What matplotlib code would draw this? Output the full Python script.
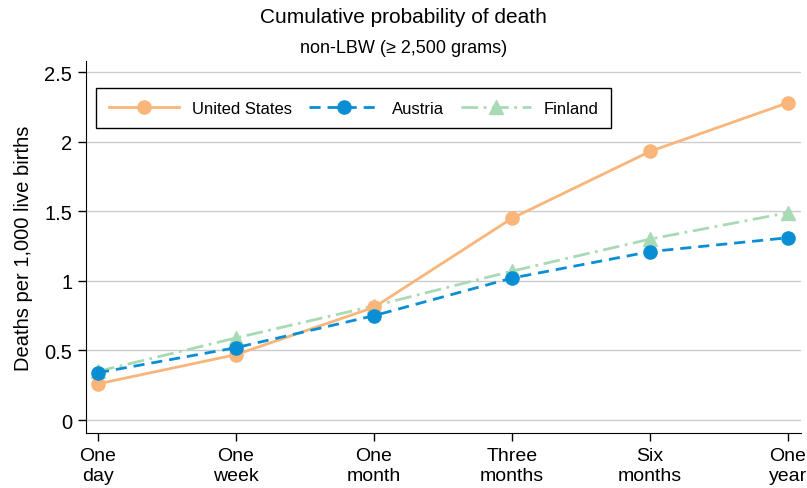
import numpy as np
import matplotlib
matplotlib.use("Agg")
import matplotlib.pyplot as plt

plt.rcParams['font.family'] = ['Liberation Sans', 'DejaVu Sans']

periods = ["One\nday", "One\nweek", "One\nmonth", "Three\nmonths", "Six\nmonths", "One\nyear"]
us = [0.26, 0.47, 0.81, 1.45, 1.93, 2.28]
austria = [0.34, 0.52, 0.75, 1.02, 1.21, 1.31]
finland = [0.35, 0.59, 0.82, 1.07, 1.30, 1.49]
yticks = [0, 0.5, 1, 1.5, 2, 2.5]
ytick_labels = ["0", "0.5", "1", "1.5", "2", "2.5"]

fig = plt.figure(figsize=(8.07, 4.89), dpi=100)
ax = fig.add_axes([0.1066, 0.1125, 0.886, 0.7605])

x = np.arange(len(periods))
ax.plot(x, us, color="#F9B57A", lw=2, marker="o", ms=9.5, label="United States", zorder=3)
ax.plot(x, austria, color="#0A8ED3", lw=2, ls=(0, (4, 2.5)), marker="o", ms=9.5,
        label="Austria", zorder=4)
ax.plot(x, finland, color="#A8DAB6", lw=2, ls=(0, (6, 2, 1, 2)), marker="^", ms=9.5,
        label="Finland", zorder=2)

ax.set_xlim(-0.087, 5.094)
ax.set_ylim(-0.093, 2.579)
ax.set_xticks(x)
ax.set_xticklabels(periods, fontsize=14, linespacing=1.25)
ax.set_yticks(yticks)
ax.set_yticklabels(ytick_labels, fontsize=14.5)
ax.tick_params(direction="out", length=6, width=1, color="black", pad=4)
ax.yaxis.grid(True, color="#CCCCCC", lw=1)
ax.set_axisbelow(True)
for side in ["top", "right"]:
    ax.spines[side].set_visible(False)

ax.set_ylabel("Deaths per 1,000 live births", fontsize=14.5, labelpad=8)
fig.text(0.5, 0.965, "Cumulative probability of death", ha="center", va="center", fontsize=15)
fig.text(0.5, 0.9, "non-LBW (\u2265 2,500 grams)", ha="center", va="center", fontsize=13)

leg = ax.legend(loc="upper left", bbox_to_anchor=(0.014, 0.927), borderaxespad=0,
                ncol=3, fontsize=12, fancybox=False, edgecolor="black", framealpha=1,
                handlelength=4.2, columnspacing=1.0, borderpad=0.75)
leg.get_frame().set_linewidth(1)

fig.savefig("out.png", dpi=100)
